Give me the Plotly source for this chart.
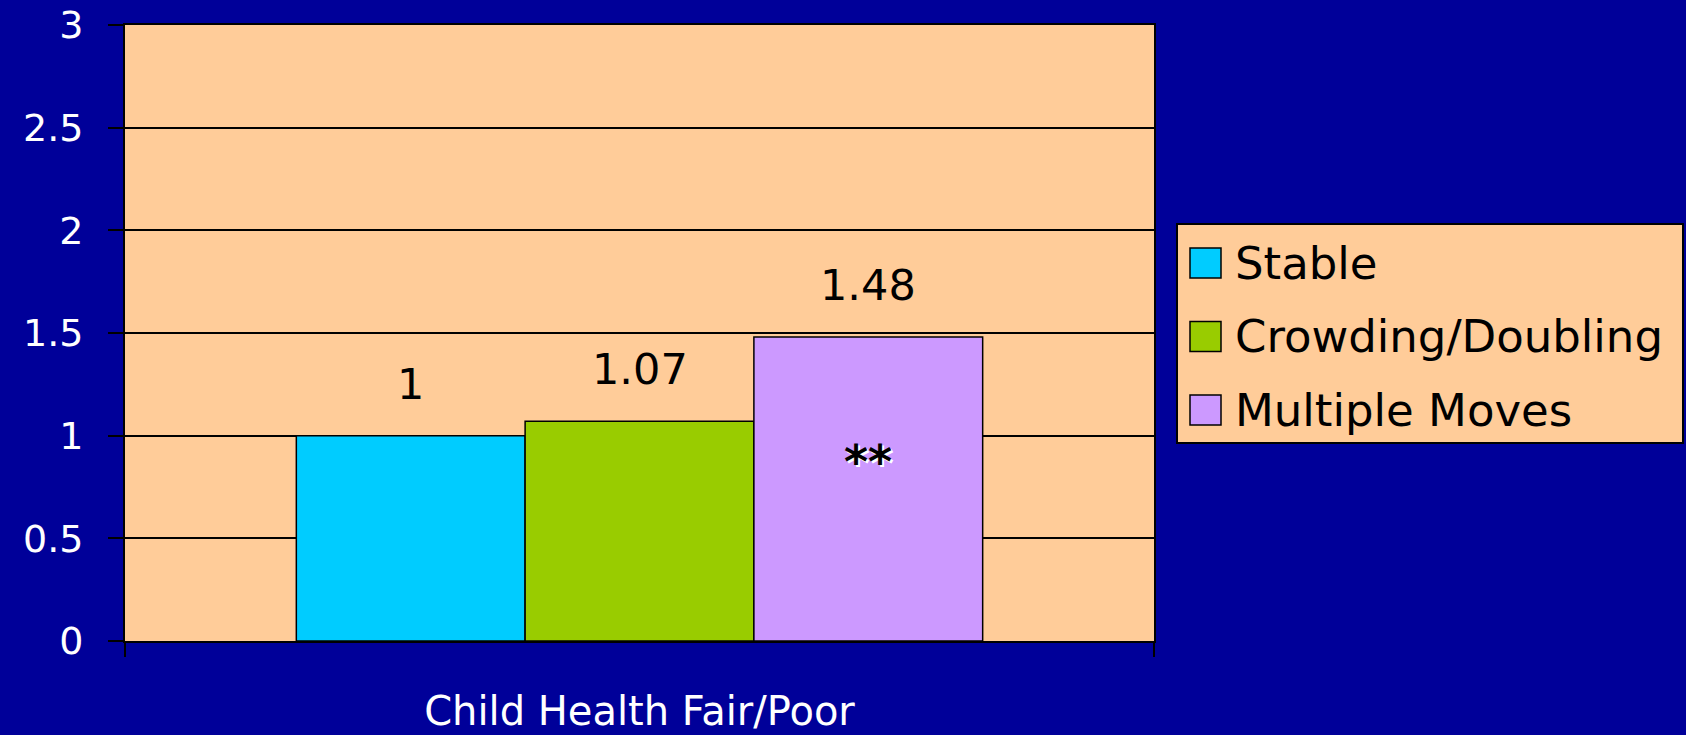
import plotly.graph_objects as go

# ── Data ─────────────────────────────────────────────────────────────────────
category = ["Child Health Fair/Poor"]
series_names = ["Stable", "Crowding/Doubling", "Multiple Moves"]
series_values = [1.00, 1.07, 1.48]
value_labels = ["1", "1.07", "1.48"]
series_colors = ["#00CCFF", "#99CC00", "#CC99FF"]
star_series = "Multiple Moves"
star_text = "**"
star_y = 0.87

y_ticks = [0, 0.5, 1, 1.5, 2, 2.5, 3]

# ── Layout constants ─────────────────────────────────────────────────────────
W, H = 1686, 735
ML, MR, MT, MB = 125, 532, 25, 94
BARGAP = 0.333
FONT = "DejaVu Sans"
BG = "#000099"
PLOT_BG = "#FFCC99"

plot_w = W - ML - MR
plot_h = H - MT - MB
bar_px = plot_w * (1 - BARGAP) / len(series_names)


def px_x(x):
    return (x - ML) / plot_w


def px_y(y):
    return (H - MB - y) / plot_h


fig = go.Figure()

for name, val, col in zip(series_names, series_values, series_colors):
    fig.add_trace(go.Bar(
        x=category, y=[val], name=name,
        marker=dict(color=col, line=dict(color="black", width=1.5)),
        showlegend=False,
    ))

# value labels above bars
n = len(series_names)
for i, (val, lab) in enumerate(zip(series_values, value_labels)):
    fig.add_annotation(
        x=category[0], y=val, text=lab, showarrow=False,
        xshift=(i - (n - 1) / 2) * bar_px, yshift=52, yanchor="middle",
        font=dict(family=FONT, size=43, color="black"),
    )

# significance marker
si = series_names.index(star_series)
fig.add_annotation(
    x=category[0], y=star_y, text=f"<b>{star_text}</b>", showarrow=False,
    xshift=(si - (n - 1) / 2) * bar_px, yanchor="middle",
    font=dict(family=FONT, size=46, color="black", shadow="2px 2px 0px white"),
)

# ── Legend (drawn by hand to get big swatches) ──────────────────────────────
shapes = [dict(
    type="rect", xref="paper", yref="paper",
    x0=px_x(1177), x1=px_x(1683), y0=px_y(443), y1=px_y(224),
    fillcolor=PLOT_BG, line=dict(color="black", width=2), layer="below",
)]
row_y = [263, 336.5, 410]
for name, col, ry in zip(series_names, series_colors, row_y):
    shapes.append(dict(
        type="rect", xref="paper", yref="paper",
        x0=px_x(1190), x1=px_x(1221), y0=px_y(ry + 15), y1=px_y(ry - 15),
        fillcolor=col, line=dict(color="black", width=1.5),
    ))
    fig.add_annotation(
        xref="paper", yref="paper", x=px_x(1233), y=px_y(ry),
        xanchor="left", yanchor="middle", showarrow=False, text=name,
        font=dict(family=FONT, size=45, color="black"),
    )

fig.update_layout(
    width=W, height=H,
    margin=dict(l=ML, r=MR, t=MT, b=MB, autoexpand=False),
    paper_bgcolor=BG, plot_bgcolor=PLOT_BG,
    barmode="group", bargap=BARGAP, bargroupgap=0,
    shapes=shapes,
    font=dict(family=FONT, color="white"),
)
fig.update_yaxes(
    range=[0, 3], tickvals=y_ticks, ticktext=[f"{v:g}" for v in y_ticks],
    showgrid=True, gridcolor="black", gridwidth=1.5,
    showline=True, linecolor="black", linewidth=2, mirror=True,
    ticks="outside", ticklen=15, tickcolor="black", tickwidth=2,
    tickfont=dict(family=FONT, size=38, color="white"),
    ticklabelstandoff=17, zeroline=False, automargin=False,
)
fig.update_xaxes(
    showline=True, linecolor="black", linewidth=2, mirror=True,
    ticks="outside", ticklen=14, tickcolor="black", tickwidth=2,
    tickson="boundaries",
    tickfont=dict(family=FONT, size=40, color="white"),
    ticklabelstandoff=34, automargin=False,
)

fig.write_html(
    "out.html",
    config={"displayModeBar": False},
    post_script="document.body.style.margin='0';"
                "document.body.style.background='#000099';",
)
